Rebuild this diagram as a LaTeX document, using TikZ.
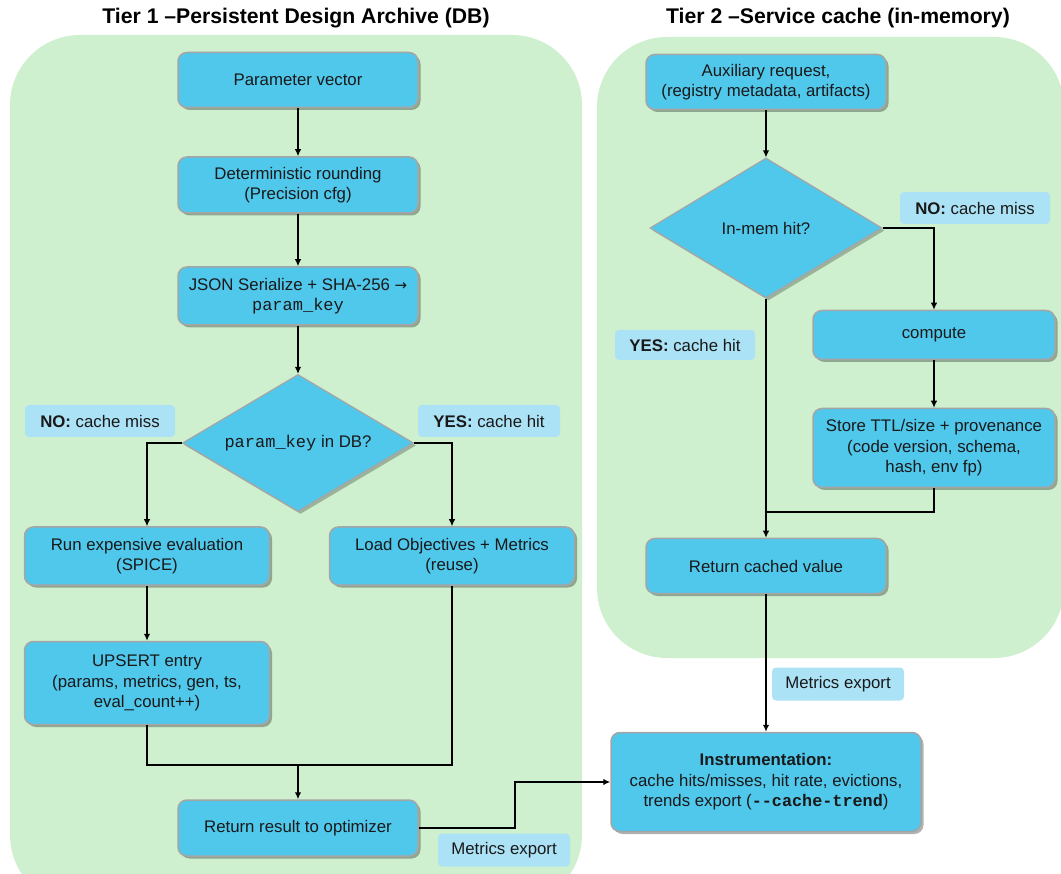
\documentclass[tikz,border=0pt]{standalone}
\usepackage{fontspec}
\setmainfont{Liberation Sans}
\setmonofont{Liberation Mono}
\newfontfamily\symfont{DejaVu Sans}
\usetikzlibrary{shapes.geometric,shadows,arrows.meta}
\definecolor{panel}{RGB}{206,240,206}
\definecolor{boxfill}{RGB}{80,200,236}
\definecolor{lblfill}{RGB}{172,226,245}
\definecolor{bord}{RGB}{165,165,165}
\definecolor{ink}{RGB}{25,25,25}
\begin{document}
\begin{tikzpicture}[x=1pt,y=-1pt,
  txt/.style={font=\fontsize{16.8}{20.5}\selectfont, text=ink, align=center},
  box/.style={txt, draw=bord, line width=1.5pt, fill=boxfill, rounded corners=9pt,
    inner sep=2pt,
    drop shadow={shadow xshift=2.5pt, shadow yshift=-2.5pt, opacity=0.3, fill=black}},
  dia/.style={txt, diamond, draw=bord, line width=1.2pt, fill=boxfill, inner sep=0pt,
    drop shadow={shadow xshift=2.5pt, shadow yshift=-2.5pt, opacity=0.25, fill=black}},
  lbl/.style={txt, fill=lblfill, rounded corners=4pt, inner sep=2pt},
  ttl/.style={font=\fontsize{21.2}{24}\selectfont\bfseries, text=black},
  line/.style={draw=black, line width=1.3pt},
  arr/.style={line, -{Latex[length=7pt,width=6.5pt]}}]
\useasboundingbox (0,0) rectangle (1061,874);
\begin{scope}
\clip (0,0) rectangle (1061,874);
\fill[panel, rounded corners=70pt] (10,35) rectangle (582,905);
\fill[panel, rounded corners=70pt] (597,37) rectangle (1064,658);
\end{scope}

\node[ttl] (t1) at (296,18) {Tier 1 –Persistent Design Archive (DB)};
\node[ttl] (t2) at (838,18) {Tier 2 –Service cache (in-memory)};

% Tier 1
\node[box, minimum width=240pt, minimum height=55pt] (pv) at (298,80) {Parameter vector};
\node[box, minimum width=240pt, minimum height=56pt] (dr) at (298,185) {Deterministic rounding\\(Precision cfg)};
\node[box, minimum width=240pt, minimum height=58pt] (js) at (298,296) {JSON Serialize + SHA-256 {\symfont\fontsize{15}{20.5}\selectfont →}\\\texttt{\fontsize{17}{20.5}\selectfont param\_key}};
\node[dia, aspect=1.69, minimum width=231pt, minimum height=137pt] (q1) at (298,443) {\texttt{\fontsize{17}{20.5}\selectfont param\_key} in DB?};
\node[lbl, minimum width=150pt, minimum height=32pt] (no1) at (100,421) {\textbf{NO:} cache miss};
\node[lbl, minimum width=142pt, minimum height=32pt] (yes1) at (489,421) {\textbf{YES:} cache hit};
\node[box, minimum width=245pt, minimum height=58pt] (run) at (147,556) {Run expensive evaluation\\(SPICE)};
\node[box, minimum width=245pt, minimum height=58pt] (load) at (452,556) {Load Objectives + Metrics\\(reuse)};
\node[box, minimum width=245pt, minimum height=83pt] (ups) at (147,683) {UPSERT entry\\(params, metrics, gen, ts,\\eval\_count++)};
\node[box, minimum width=240pt, minimum height=56pt] (ret) at (298,828) {Return result to optimizer};
\node[lbl, minimum width=132pt, minimum height=33pt] (me1) at (504,850) {Metrics export};

% Tier 2
\node[box, minimum width=240pt, minimum height=55pt] (aux) at (766,82) {Auxiliary request,\\(registry metadata, artifacts)};
\node[dia, aspect=1.66, minimum width=232pt, minimum height=140pt] (q2) at (766,228) {In-mem hit?};
\node[lbl, minimum width=150pt, minimum height=32pt] (no2) at (975,208) {\textbf{NO:} cache miss};
\node[box, minimum width=242pt, minimum height=49pt] (comp) at (934,335) {compute};
\node[box, minimum width=242pt, minimum height=79pt] (store) at (934,448) {Store TTL/size + provenance\\(code version, schema,\\hash, env fp)};
\node[lbl, minimum width=140pt, minimum height=30pt] (yes2) at (685,345) {\textbf{YES:} cache hit};
\node[box, minimum width=240pt, minimum height=55pt] (rcv) at (766,566) {Return cached value};
\node[lbl, minimum width=132pt, minimum height=33pt] (me2) at (838,684) {Metrics export};
\node[box, minimum width=310pt, minimum height=99pt] (inst) at (766,782) {\textbf{Instrumentation:}\\cache hits/misses, hit rate, evictions,\\trends export (\texttt{\bfseries -{}-cache-trend})};

% connectors tier 1
\draw[arr] (pv) -- (dr);
\draw[arr] (dr) -- (js);
\draw[arr] (js) -- (q1);
\draw[arr] (q1.west) -| (run.north);
\draw[arr] (q1.east) -| (load.north);
\draw[arr] (run) -- (ups);
\coordinate (j1) at (298,765);
\draw[line] (ups.south) |- (j1);
\draw[line] (load.south) |- (j1);
\draw[arr] (j1) -- (ret.north);
\coordinate (k1) at (515,828);
\draw[arr] (ret.east) -- (k1) |- (inst.west);

% connectors tier 2
\draw[arr] (aux) -- (q2);
\draw[arr] (q2.east) -| (comp.north);
\draw[arr] (comp) -- (store);
\draw[arr] (q2.south) -- (rcv.north);
\coordinate (j2) at (766,512);
\draw[line] (store.south) |- (j2);
\draw[arr] (rcv.south) -- (inst.north);
\end{tikzpicture}
\end{document}
